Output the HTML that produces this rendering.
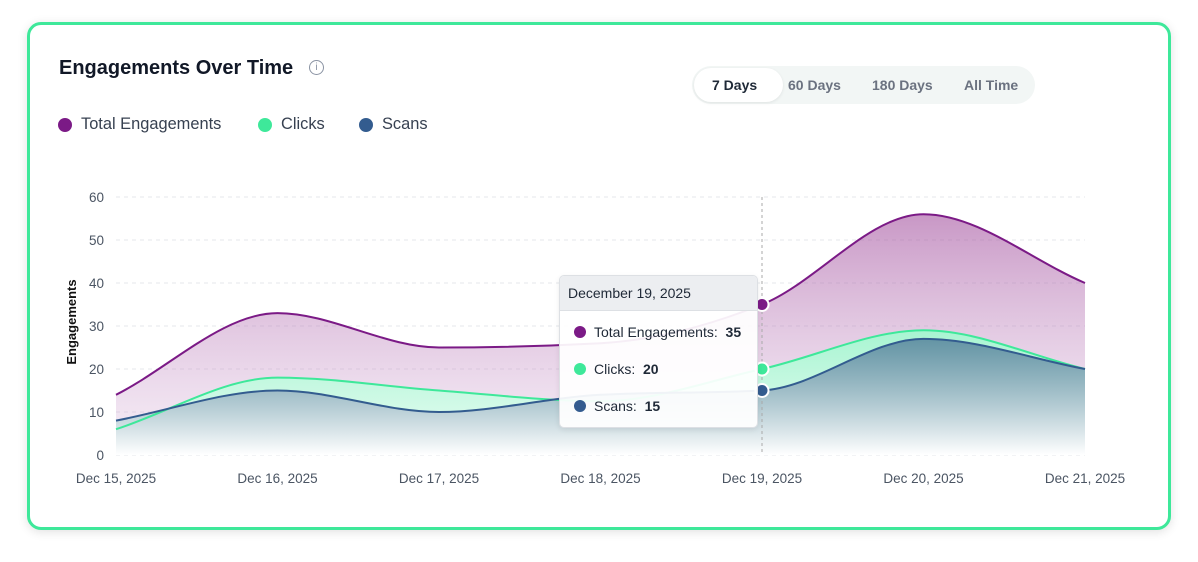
<!DOCTYPE html>
<html><head><meta charset="utf-8"><style>
body{margin:0;width:1198px;height:562px;background:#fff;font-family:"Liberation Sans",sans-serif;overflow:hidden;position:relative}
.card{position:absolute;left:27px;top:22px;width:1138px;height:502px;border:3px solid #3ee89a;border-radius:14px;background:#fff;box-shadow:0 2px 10px rgba(0,0,0,.12)}
.title{position:absolute;left:59px;top:57px;font-size:20px;font-weight:bold;color:#111827}
.info{position:absolute;left:309px;top:60px;width:13px;height:13px;border:1.3px solid #8a93a3;border-radius:50%;font-size:10px;color:#8a93a3;text-align:center;line-height:13px}
.leg{position:absolute;top:115px;font-size:16.4px;color:#374151;display:flex;align-items:center}
.leg i{width:14px;height:14px;border-radius:50%;display:inline-block;margin-right:9px}
.tabs{position:absolute;left:692px;top:66px;width:343px;height:38px;background:#f2f6f5;border-radius:19px;font-size:14px;font-weight:bold;color:#6b7280}
.tabs span{position:absolute;top:11px}
.sel{position:absolute;left:2px;top:2px;width:89px;height:34px;background:#fff;border-radius:17px;box-shadow:0 1px 3px rgba(0,0,0,.08)}
.tip{position:absolute;left:559px;top:275px;width:197px;height:151px;border:1px solid #dde0e4;border-radius:5px;background:rgba(255,255,255,.93);box-shadow:0 2px 6px rgba(0,0,0,.08);font-size:14px;color:#1f2937;overflow:hidden}
.tip .h{height:34px;background:#eceef1;border-bottom:1px solid #dde0e4;line-height:34px;padding-left:8px}
.tip .r{position:absolute;left:14px;display:flex;align-items:center}
.tip .r i{width:12px;height:12px;border-radius:50%;margin-right:8px}
</style></head><body>
<div class="card"></div>
<div class="title">Engagements Over Time</div>
<div class="info" style="left:309px">i</div>
<div class="leg" style="left:58px"><i style="background:#7b1a86"></i>Total Engagements</div>
<div class="leg" style="left:258px"><i style="background:#3ee89a"></i>Clicks</div>
<div class="leg" style="left:359px"><i style="background:#335c8f"></i>Scans</div>
<div class="tabs"><div class="sel"></div><span style="left:20px;color:#1f2937">7 Days</span><span style="left:96px">60 Days</span><span style="left:180px">180 Days</span><span style="left:272px">All Time</span></div>
<svg id="s" width="1198" height="562" style="position:absolute;left:0;top:0"></svg>
<div class="tip"><div class="h">December 19, 2025</div>
<div class="r" style="top:48px"><i style="background:#7b1a86"></i>Total Engagements:&nbsp;&nbsp;<b>35</b></div>
<div class="r" style="top:85px"><i style="background:#3ee89a"></i>Clicks:&nbsp;&nbsp;<b>20</b></div>
<div class="r" style="top:122px"><i style="background:#335c8f"></i>Scans:&nbsp;&nbsp;<b>15</b></div>
</div>
<script>
var X=i=>116+i*161.5,Y=v=>455-v*4.3;
var T=[14,33,25,26,35,56,40],C=[6,18,15,12.5,20,29,20],S=[8,15,10,14,15,27,20];
function path(d){var p=d.map((v,i)=>[X(i),Y(v)]),n=p.length,m=[];
for(var i=0;i<n;i++){var a=i>0?(p[i][1]-p[i-1][1])/(p[i][0]-p[i-1][0]):null,b=i<n-1?(p[i+1][1]-p[i][1])/(p[i+1][0]-p[i][0]):null;
if(a===null)m.push(b);else if(b===null)m.push(a);else m.push(a*b<=0?0:(a+b)/2*Math.min(1,2*Math.min(Math.abs(a),Math.abs(b))/Math.abs((a+b)/2)));}
var s="M"+p[0][0]+","+p[0][1];for(var i=0;i<n-1;i++){var h=(p[i+1][0]-p[i][0])/3;
s+=" C"+(p[i][0]+h)+","+(p[i][1]+m[i]*h)+" "+(p[i+1][0]-h)+","+(p[i+1][1]-m[i+1]*h)+" "+p[i+1][0]+","+p[i+1][1];}return s;}
var h='<defs><linearGradient id="gt" x1="0" y1="0" x2="0" y2="1"><stop offset="0" stop-color="#a4529f" stop-opacity=".6"/><stop offset="1" stop-color="#d9b8dc" stop-opacity=".25"/></linearGradient>'+
'<linearGradient id="gc" x1="0" y1="0" x2="0" y2="1"><stop offset="0" stop-color="#3ee89a" stop-opacity=".45"/><stop offset="1" stop-color="#3ee89a" stop-opacity=".1"/></linearGradient>'+
'<linearGradient id="gs" x1="0" y1="0" x2="0" y2="1"><stop offset="0" stop-color="#3d7a8e" stop-opacity=".8"/><stop offset="1" stop-color="#ffffff" stop-opacity="1"/></linearGradient></defs>';
for(var v=0;v<=60;v+=10){h+='<line x1="116" x2="1085" y1="'+Y(v)+'" y2="'+Y(v)+'" stroke="#e5e7eb" stroke-dasharray="4 4"/>';
h+='<text x="104" y="'+(Y(v)+5)+'" text-anchor="end" font-size="13.5" fill="#4b5563">'+v+'</text>';}
var L=["Dec 15, 2025","Dec 16, 2025","Dec 17, 2025","Dec 18, 2025","Dec 19, 2025","Dec 20, 2025","Dec 21, 2025"];
L.forEach((l,i)=>h+='<text x="'+X(i)+'" y="483" text-anchor="middle" font-size="13.5" fill="#4b5563">'+l+'</text>');
h+='<text transform="translate(76,322) rotate(-90)" text-anchor="middle" font-size="13" font-weight="bold" fill="#111">Engagements</text>';
var cl=" L1085,455 L116,455 Z";
h+='<path d="'+path(T)+cl+'" fill="url(#gt)"/><path d="'+path(C)+cl+'" fill="#fff"/><path d="'+path(C)+cl+'" fill="url(#gc)"/><path d="'+path(S)+cl+'" fill="#fff"/><path d="'+path(S)+cl+'" fill="url(#gs)"/>';
h+='<line x1="762" x2="762" y1="197" y2="455" stroke="#aaa" stroke-dasharray="3 3"/>';
h+='<path d="'+path(T)+'" fill="none" stroke="#7b1a86" stroke-width="2"/><path d="'+path(C)+'" fill="none" stroke="#3ee89a" stroke-width="2"/><path d="'+path(S)+'" fill="none" stroke="#335c8f" stroke-width="2"/>';
[[35,"#7b1a86"],[20,"#3ee89a"],[15,"#335c8f"]].forEach(d=>h+='<circle cx="'+X(4)+'" cy="'+Y(d[0])+'" r="6.5" fill="'+d[1]+'" stroke="#fff" stroke-width="2"/>');
document.getElementById("s").innerHTML=h;
</script>
</body></html>
